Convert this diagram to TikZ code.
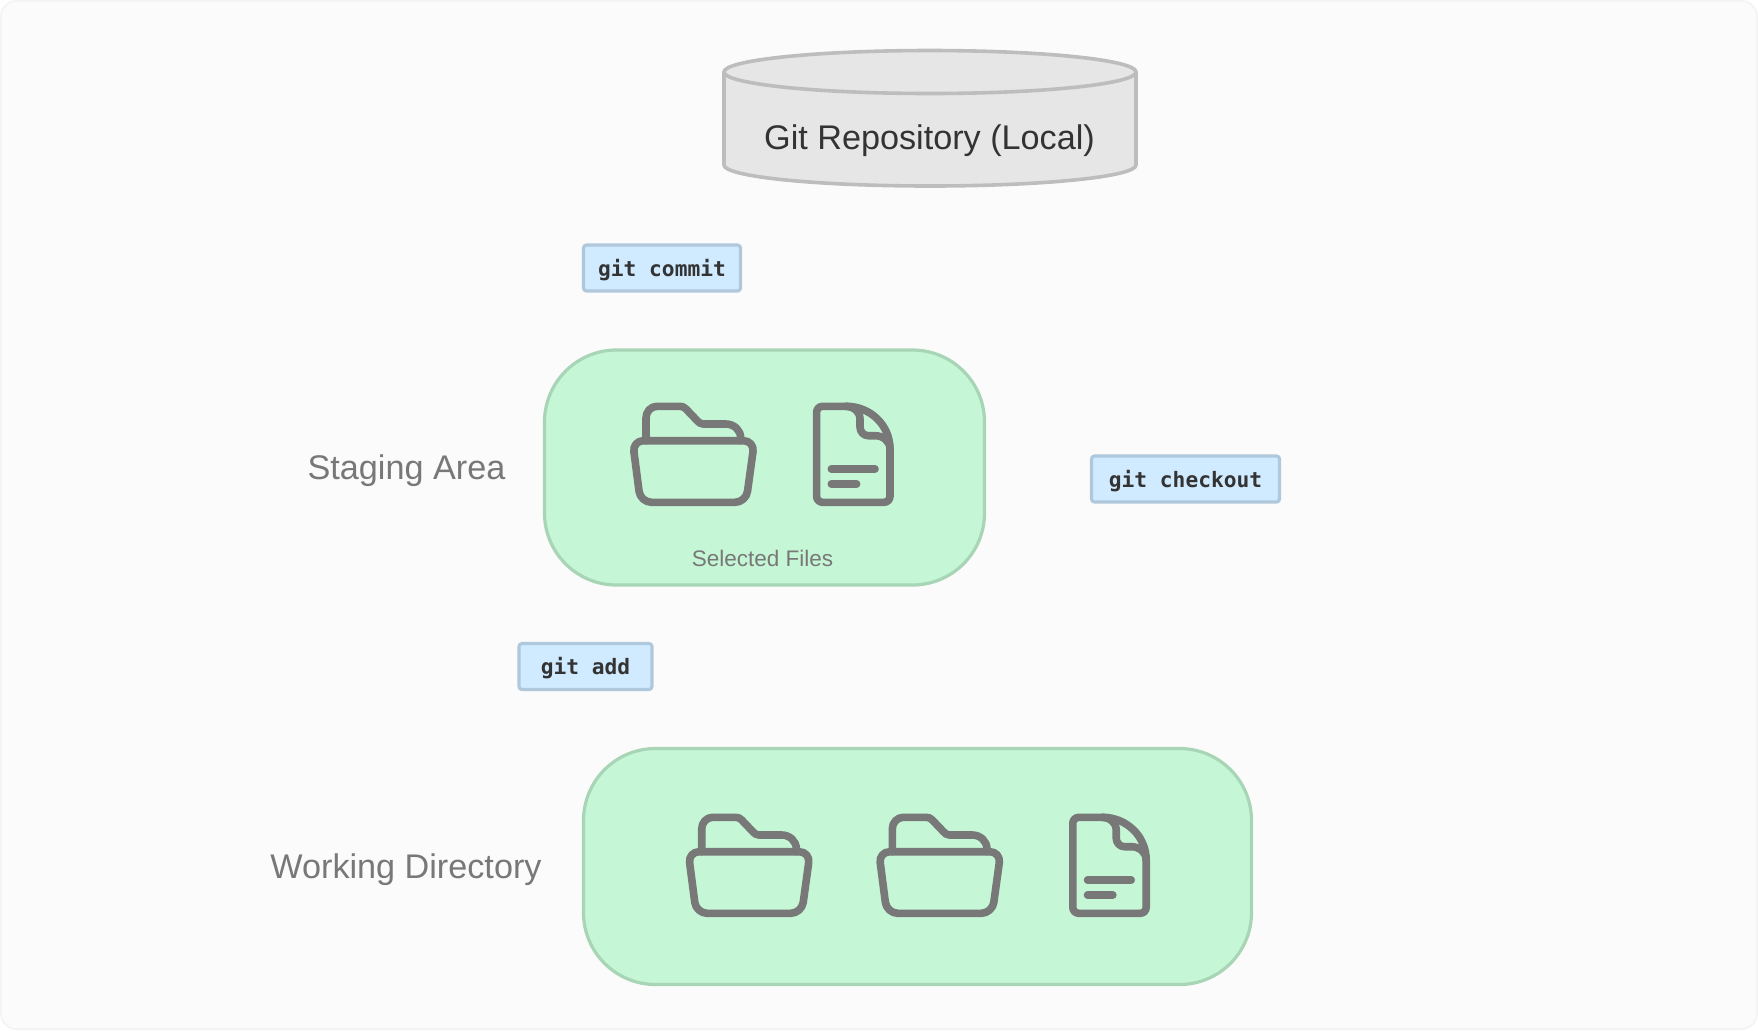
\documentclass[tikz,border=0pt]{standalone}
\usepackage{fontspec}
\setmainfont{Liberation Sans}
\setmonofont{DejaVu Sans Mono}
\definecolor{pagefill}{HTML}{FBFBFB}
\definecolor{pageline}{HTML}{F3F3F3}
\definecolor{areafill}{HTML}{C5F6D5}
\definecolor{arealine}{HTML}{A9D5B7}
\definecolor{tagfill}{HTML}{D0EAFF}
\definecolor{tagline}{HTML}{AFC8DC}
\definecolor{repofill}{HTML}{E6E6E6}
\definecolor{repoline}{HTML}{BDBDBD}
\definecolor{iconline}{HTML}{787878}
\newcommand{\tagtext}[1]{\raisebox{-1.1pt}[8pt][2pt]{#1}}
\tikzset{
	areabox/.style={draw=arealine,fill=areafill,line width=1.6pt,rounded corners=36pt},
	tagbox/.style={draw=tagline,fill=tagfill,line width=1.6pt,rounded corners=1.5pt,text=black!80,font=\ttfamily\bfseries\fontsize{10.6}{12}\selectfont},
	arealabel/.style={text=iconline,font=\fontsize{17.1}{20}\selectfont},
	folderpic/.pic={
		\draw (15,37.7)--(15,15) to [out=90,in=180] (26,3.3)--(49,3.3) to [out=0,in=135] (55,6)--(66,17.5) to [out=-45,in=180] (72,21)--(95,21) to [out=0,in=90] (109.7,35)--(109.7,37.7);
		\draw[rounded corners=5.5pt] (1.5,37.7)--(123.5,37.7)--(115,99.3)--(9.5,99.3)--cycle;
	},
	docpic/.pic={
		\draw[rounded corners=3pt] (33,3.3)--(3.3,3.3)--(3.3,99.3)--(76.7,99.3)--(76.7,46);
		\draw (33,3.3) arc [x radius=21.85pt,y radius=21.35pt,start angle=90,end angle=0];
		\draw (33,3.3) to [out=0,in=90] (46.7,16)--(46.7,24) to [out=-90,in=180] (55,32.7)--(62,32.7) to [out=0,in=90] (76.7,46);
		\draw (18,66)--(61.7,66);
		\draw (18,81)--(43.3,81);
	}
}
\begin{document}
\begin{tikzpicture}[x=0.5pt,y=-0.5pt,line join=round,line cap=round]
	\useasboundingbox (0,0) rectangle (1758,1030);
	\draw[draw=pageline,fill=pagefill,line width=0.8pt,rounded corners=8pt] (0.8,0.8) rectangle (1757.2,1029.2);
	% repository
	\draw[draw=repoline,fill=repofill,line width=1.8pt] (724,72)--(724,165) arc [x radius=103pt,y radius=10.5pt,start angle=180,end angle=360]--(1136,72);
	\draw[draw=repoline,fill=repofill,line width=1.8pt] (930,72) ellipse [x radius=103pt,y radius=10.75pt];
	\node[text=black!80,font=\fontsize{17.1}{20}\selectfont] (repo) at (929.5,140.5) {Git Repository (Local)};
	% areas
	\node[areabox,minimum width=220pt,minimum height=117.5pt] (staging) at (764.5,467.5) {};
	\node[areabox,minimum width=334pt,minimum height=118pt] (working) at (917.5,866.5) {};
	\node[arealabel] (staginglabel) at (406.5,470.5) {Staging Area};
	\node[arealabel] (workinglabel) at (406,869.5) {Working Directory};
	\node[text=iconline,font=\fontsize{11.25}{13}\selectfont] (selected) at (762.5,558) {Selected Files};
	% commands
	\node[tagbox,minimum width=78.5pt,minimum height=23pt] (commit) at (662,268) {\tagtext{git commit}};
	\node[tagbox,minimum width=94pt,minimum height=23pt] (checkout) at (1185.5,479) {\tagtext{git checkout}};
	\node[tagbox,minimum width=66.5pt,minimum height=23pt] (add) at (585.5,666.5) {\tagtext{git add}};
	% icons
	\begin{scope}[draw=iconline,line width=3.8pt]
		\pic at (631,403) {folderpic};
		\pic at (813.3,403) {docpic};
		\pic at (686.7,814) {folderpic};
		\pic at (877.3,814) {folderpic};
		\pic at (1069.5,814) {docpic};
	\end{scope}
\end{tikzpicture}
\end{document}
